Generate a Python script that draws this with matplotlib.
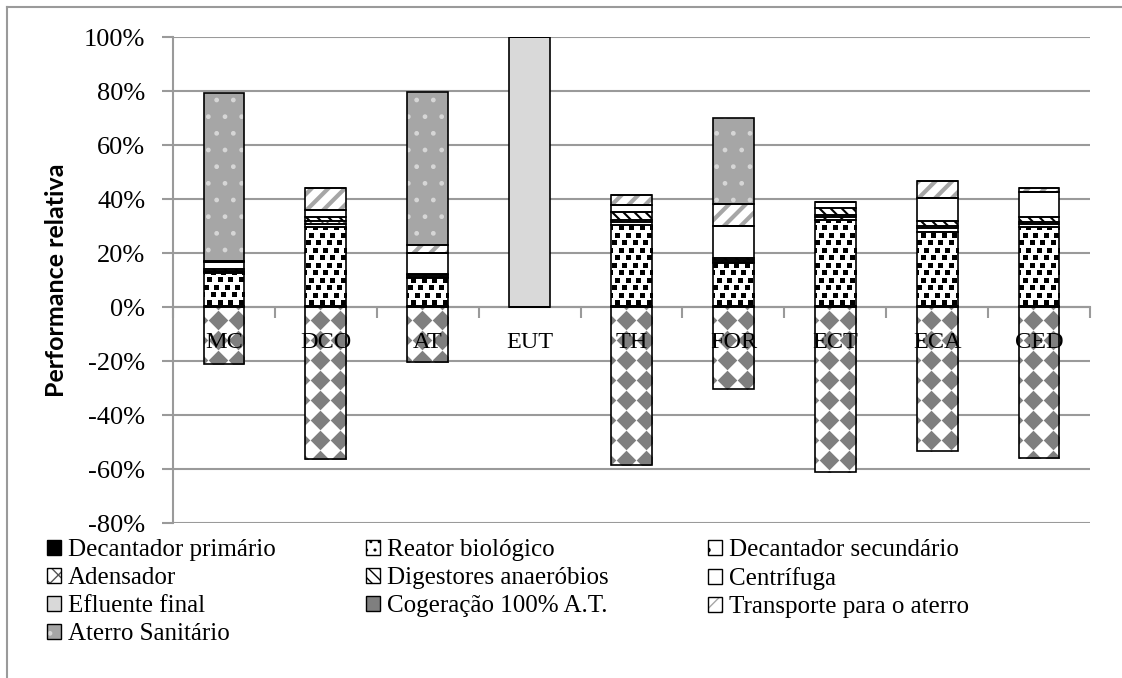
import numpy as np
import matplotlib
matplotlib.use("Agg")
import matplotlib.pyplot as plt
from matplotlib.patches import Patch
from matplotlib.lines import Line2D

plt.rcParams['font.family'] = ['Liberation Serif', 'DejaVu Serif']

# dados (em %)
categories = ['MC', 'DCO', 'AT', 'EUT', 'TH', 'FOR', 'ECT', 'ECA', 'CED']
decantador_primario = [0.4, 0.3, 0.3, 0, 0.3, 0.3, 0.3, 0.3, 0.3]
reator_biologico = [12.1, 29.4, 10.3, 0, 30.1, 15.9, 31.9, 27.6, 29.4]
decantador_secundario = [0.6, 1.0, 0.6, 0, 1.0, 0.6, 1.0, 1.2, 1.0]
adensador = [0.4, 1.0, 0.5, 0, 0.8, 0.6, 0.8, 0.8, 0.8]
digestores = [0.5, 1.7, 0.5, 0, 2.9, 0.6, 2.5, 2.0, 1.7]
centrifuga = [2.8, 2.5, 7.7, 0, 2.7, 12.1, 2.5, 8.6, 9.5]
efluente_final = [0, 0, 0, 100, 0, 0, 0, 0, 0]
cogeracao = [-21.2, -56.4, -20.4, 0, -58.5, -30.4, -61.1, -53.3, -55.9]
transporte = [0.3, 8.1, 3.1, 0, 3.7, 7.9, 0, 6.2, 1.5]
aterro = [62.0, 0, 56.7, 0, 0, 31.9, 0, 0, 0]
yticks = [-80, -60, -40, -20, 0, 20, 40, 60, 80, 100]

# texture: 'D' = losangos cinza, 'S' = quadradinhos pretos
series = [
    ('Decantador primário', decantador_primario, dict(face='black')),
    ('Reator biológico', reator_biologico, dict(face='white', texture='S', legend_hatch='..')),
    ('Decantador secundário', decantador_secundario, dict(face='white', hatch='.', hc='black', hlw=1.0)),
    ('Adensador', adensador, dict(face='white', hatch='xx', hc='#555555', hlw=1.0)),
    ('Digestores anaeróbios', digestores, dict(face='white', hatch='\\\\\\', hc='black', hlw=1.5)),
    ('Centrífuga', centrifuga, dict(face='white')),
    ('Efluente final', efluente_final, dict(face='#d9d9d9')),
    ('Cogeração 100% A.T.', cogeracao, dict(face='white', texture='D', legend_face='#7f7f7f')),
    ('Transporte para o aterro', transporte, dict(face='white', hatch='//', hc='#a6a6a6', hlw=3.0)),
    ('Aterro Sanitário', aterro, dict(face='#a6a6a6', hatch='.', hc='#d6d6d6', hlw=1.0)),
]

W, H = 1122, 678
fig = plt.figure(figsize=(W / 100, H / 100), dpi=100)
ax = fig.add_axes([173 / W, 1 - 523 / H, (1090 - 173) / W, (523 - 37) / H])
ax.set_xlim(-0.5, len(categories) - 0.5)
ax.set_ylim(-80, 100)

px_x = ax.transData.transform((1, 0))[0] - ax.transData.transform((0, 0))[0]
px_y = ax.transData.transform((0, 1))[1] - ax.transData.transform((0, 0))[1]

x = np.arange(len(categories))
bw = 0.4
bottom = np.zeros(len(categories))
handles = []


def set_hlw(p, lw):
    if hasattr(p, 'set_hatch_linewidth'):
        p.set_hatch_linewidth(lw)


def texture(bars, kind):
    for p in bars:
        h = p.get_height()
        if h == 0:
            continue
        y0, y1 = sorted([p.get_y(), p.get_y() + h])
        cx = p.get_x() + p.get_width() / 2
        if kind == 'D':
            sx, sy = 20 / px_x, 20 / px_y
            xs = cx - 6 / px_x + sx * np.arange(-2, 3)
            ys = -13 / px_y - sy * np.arange(-1, int((y1 - y0) / sy) + 2)
            gx, gy = np.meshgrid(xs, ys)
            sc = ax.scatter(gx.ravel(), gy.ravel(), marker='D', s=10 ** 2, color='#7f7f7f',
                            linewidths=0, zorder=2.5)
        else:
            sx, sy = 10.5 / px_x, 7.5 / px_y
            pts = []
            for r, yy in enumerate(np.arange(y0 + 4 / px_y, y1 + sy, sy)):
                off = (r % 3) * 3.5 / px_x
                for xx in cx - 25 / px_x + off + sx * np.arange(0, 6):
                    pts.append((xx, yy))
            pts = np.array(pts)
            sc = ax.scatter(pts[:, 0], pts[:, 1], marker='s', s=3.6 ** 2, color='black',
                            linewidths=0, zorder=2.5)
        sc.set_clip_path(p)


for label, vals, st in series:
    vals = np.array(vals, float)
    neg = (vals <= 0).all()
    b = np.zeros(len(vals)) if neg else bottom.copy()
    fill = ax.bar(x, vals, bw, bottom=b, color=st['face'], edgecolor=st.get('hc', st['face']),
                  linewidth=0, hatch=st.get('hatch'), zorder=2)
    if 'hlw' in st:
        for p in fill:
            set_hlw(p, st['hlw'])
    if 'texture' in st:
        texture(fill, st['texture'])
    ax.bar(x, vals, bw, bottom=b, fill=False, edgecolor='black', linewidth=1.2, zorder=3)
    if not neg:
        bottom += vals
    lh = st.get('hatch', st.get('legend_hatch'))
    h1 = Patch(facecolor=st.get('legend_face', st['face']), edgecolor=st.get('hc', 'black'),
               linewidth=0, hatch=lh)
    if 'hlw' in st:
        set_hlw(h1, st['hlw'] * 0.6)
    h2 = Patch(fill=False, edgecolor='black', linewidth=1.0)
    handles.append(((h1, h2), label))

# eixos
ax.set_axisbelow(True)
ax.yaxis.grid(True, color='#9a9a9a', linewidth=1.5, zorder=0)
for s in ['top', 'right']:
    ax.spines[s].set_visible(False)
ax.spines['left'].set_color('#9a9a9a')
ax.spines['left'].set_linewidth(1.5)
ax.spines['bottom'].set_position(('data', 0))
ax.spines['bottom'].set_color('#9a9a9a')
ax.spines['bottom'].set_linewidth(1.5)
ax.set_yticks(yticks)
ax.set_yticklabels([f'{v}%' for v in yticks])
ax.tick_params(axis='y', length=8, width=1.5, color='#9a9a9a', labelsize=19, pad=12)
ax.set_xticks(x)
ax.set_xticklabels([])
ax.tick_params(axis='x', which='major', length=0)
ax.set_xticks(np.arange(-0.5, len(categories)), minor=True)
ax.tick_params(axis='x', which='minor', length=8, width=1.5, color='#9a9a9a', direction='out')

for i, c in enumerate(categories):
    ax.text(i, -35 / px_y, c, ha='center', va='center', fontsize=17.5, zorder=5)

fig.text(57 / W, 1 - 280 / H, 'Performance relativa', rotation=90, ha='center', va='center',
         fontsize=18, fontweight='bold', family=['Lato', 'DejaVu Sans'])

# borda do gráfico
fig.add_artist(Line2D([7 / W, 7 / W], [0, 1 - 7 / H], color='#9a9a9a', lw=1.5, transform=fig.transFigure))
fig.add_artist(Line2D([7 / W, 1], [1 - 7 / H, 1 - 7 / H], color='#9a9a9a', lw=1.5, transform=fig.transFigure))

# legenda em três colunas (preenchida por linhas)
col_x = [47, 366, 708]
for ci in range(3):
    items = handles[ci::3]
    fig.legend([h for h, _ in items], [l for _, l in items], loc='upper left',
               bbox_to_anchor=(col_x[ci] / W, 1 - 539 / H), frameon=False, fontsize=18,
               handlelength=0.55, handleheight=0.55, handletextpad=0.3, labelspacing=0.24,
               borderpad=0, borderaxespad=0)

fig.savefig('out.png', dpi=100)
